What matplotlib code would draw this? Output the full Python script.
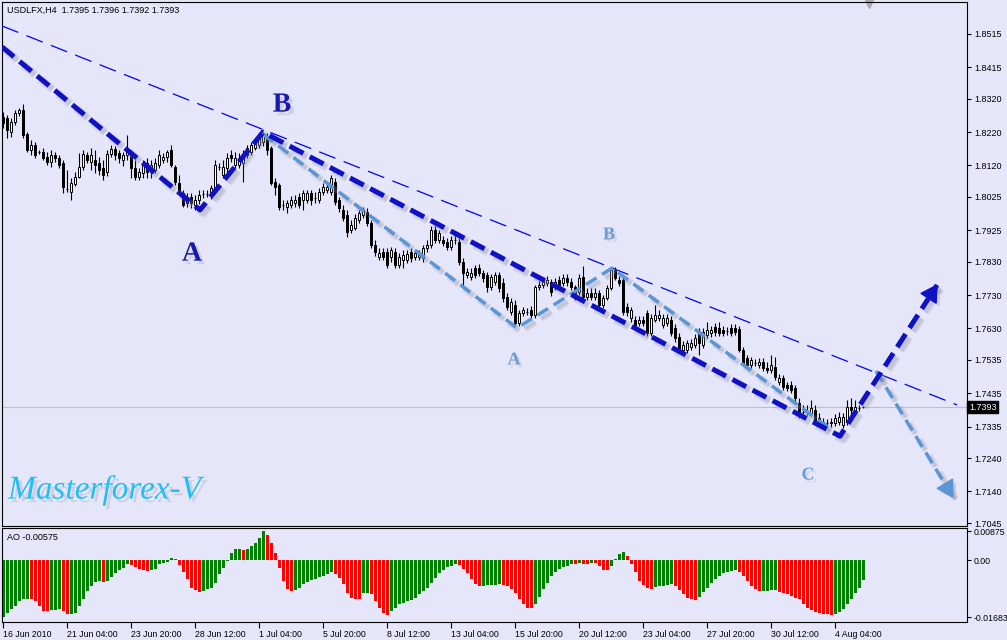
#!/usr/bin/env python
import numpy as np
import matplotlib
matplotlib.use('Agg')
import matplotlib.pyplot as plt
import matplotlib.patheffects as pe
import matplotlib.transforms as mtrans

#--USDLFX H4 candles (16 Jun 2010 .. 4 Aug 2010)
opens = [1.8265,1.8262,1.8220,1.8250,1.8277,1.8286,1.8214,1.8166,1.8181,1.8160,1.8160,1.8145,
         1.8130,1.8151,1.8142,1.8127,1.8049,1.8040,1.8064,1.8085,1.8115,1.8151,1.8130,1.8136,
         1.8127,1.8112,1.8100,1.8154,1.8169,1.8157,1.8136,1.8151,1.8151,1.8112,1.8085,1.8097,
         1.8127,1.8100,1.8106,1.8121,1.8136,1.8145,1.8166,1.8115,1.8067,1.8037,1.8007,1.8025,
         1.8001,1.8016,1.8034,1.8034,1.8031,1.8046,1.8115,1.8091,1.8112,1.8151,1.8121,1.8121,
         1.8127,1.8151,1.8160,1.8172,1.8181,1.8190,1.8205,1.8172,1.8070,1.8061,1.8001,1.7995,
         1.8001,1.8007,1.8025,1.8016,1.8016,1.8037,1.8022,1.8016,1.8040,1.8046,1.8040,1.8070,
         1.8016,1.7986,1.7971,1.7926,1.7932,1.7956,1.7971,1.7980,1.7947,1.7881,1.7844,1.7859,
         1.7859,1.7844,1.7859,1.7820,1.7835,1.7835,1.7859,1.7844,1.7844,1.7841,1.7872,1.7881,
         1.7926,1.7896,1.7896,1.7890,1.7875,1.7896,1.7890,1.7829,1.7790,1.7784,1.7811,1.7811,
         1.7796,1.7790,1.7754,1.7769,1.7790,1.7766,1.7724,1.7679,1.7700,1.7646,1.7676,1.7679,
         1.7685,1.7670,1.7754,1.7760,1.7766,1.7769,1.7754,1.7775,1.7766,1.7781,1.7769,1.7754,
         1.7739,1.7784,1.7724,1.7736,1.7724,1.7736,1.7700,1.7721,1.7751,1.7805,1.7775,1.7775,
         1.7694,1.7661,1.7655,1.7646,1.7655,1.7676,1.7616,1.7655,1.7661,1.7640,1.7646,1.7655,
         1.7631,1.7604,1.7565,1.7565,1.7574,1.7580,1.7619,1.7580,1.7610,1.7616,1.7634,1.7631,
         1.7625,1.7622,1.7631,1.7631,1.7628,1.7565,1.7541,1.7520,1.7526,1.7520,1.7529,1.7511,
         1.7505,1.7514,1.7469,1.7481,1.7460,1.7460,1.7451,1.7406,1.7379,1.7379,1.7376,1.7385,
         1.7360,1.7348,1.7345,1.7345,1.7345,1.7348,1.7339,1.7348,1.7394,1.7379,1.7391,1.7395]
highs = [1.8280,1.8271,1.8262,1.8286,1.8292,1.8304,1.8220,1.8196,1.8190,1.8166,1.8172,1.8160,
         1.8166,1.8160,1.8151,1.8136,1.8106,1.8082,1.8100,1.8157,1.8166,1.8160,1.8172,1.8166,
         1.8145,1.8136,1.8166,1.8181,1.8178,1.8166,1.8160,1.8211,1.8166,1.8136,1.8112,1.8136,
         1.8142,1.8136,1.8142,1.8166,1.8157,1.8166,1.8181,1.8121,1.8091,1.8046,1.8037,1.8037,
         1.8031,1.8046,1.8046,1.8046,1.8061,1.8136,1.8127,1.8136,1.8157,1.8166,1.8160,1.8157,
         1.8166,1.8181,1.8190,1.8202,1.8211,1.8220,1.8217,1.8178,1.8082,1.8067,1.8016,1.8016,
         1.8028,1.8031,1.8037,1.8046,1.8046,1.8046,1.8040,1.8052,1.8067,1.8067,1.8091,1.8082,
         1.8025,1.8001,1.7986,1.7956,1.7974,1.7986,1.7995,1.7992,1.7956,1.7896,1.7872,1.7872,
         1.7872,1.7875,1.7872,1.7856,1.7865,1.7865,1.7872,1.7865,1.7865,1.7881,1.7896,1.7938,
         1.7938,1.7926,1.7908,1.7902,1.7908,1.7917,1.7902,1.7841,1.7811,1.7811,1.7820,1.7823,
         1.7805,1.7799,1.7793,1.7799,1.7799,1.7781,1.7736,1.7721,1.7715,1.7685,1.7694,1.7691,
         1.7697,1.7760,1.7772,1.7784,1.7787,1.7778,1.7781,1.7787,1.7793,1.7793,1.7781,1.7760,
         1.7793,1.7817,1.7751,1.7751,1.7751,1.7745,1.7730,1.7760,1.7814,1.7814,1.7787,1.7787,
         1.7706,1.7694,1.7667,1.7667,1.7667,1.7685,1.7673,1.7700,1.7685,1.7673,1.7673,1.7667,
         1.7643,1.7616,1.7592,1.7595,1.7598,1.7613,1.7631,1.7631,1.7649,1.7637,1.7646,1.7649,
         1.7637,1.7634,1.7643,1.7643,1.7637,1.7574,1.7550,1.7544,1.7538,1.7541,1.7541,1.7529,
         1.7550,1.7544,1.7493,1.7490,1.7469,1.7472,1.7460,1.7421,1.7400,1.7400,1.7415,1.7400,
         1.7376,1.7360,1.7357,1.7360,1.7373,1.7379,1.7376,1.7415,1.7421,1.7415,1.7400,1.7396]
lows = [1.8232,1.8202,1.8205,1.8241,1.8268,1.8202,1.8160,1.8151,1.8142,1.8154,1.8136,1.8121,
        1.8115,1.8130,1.8112,1.8037,1.8040,1.8016,1.8058,1.8082,1.8106,1.8127,1.8106,1.8097,
        1.8091,1.8076,1.8088,1.8145,1.8136,1.8127,1.8118,1.8136,1.8082,1.8076,1.8076,1.8082,
        1.8082,1.8082,1.8097,1.8112,1.8127,1.8130,1.8115,1.8061,1.8037,1.7995,1.7995,1.7992,
        1.7986,1.8004,1.8022,1.8025,1.8019,1.8040,1.8106,1.8082,1.8100,1.8130,1.8112,1.8112,
        1.8070,1.8142,1.8151,1.8166,1.8172,1.8178,1.8151,1.8061,1.8031,1.7986,1.7986,1.7977,
        1.7992,1.7995,1.7992,1.7986,1.8007,1.8001,1.8007,1.8007,1.8031,1.8037,1.8031,1.8001,
        1.7980,1.7953,1.7905,1.7917,1.7926,1.7947,1.7962,1.7938,1.7872,1.7847,1.7835,1.7835,
        1.7811,1.7829,1.7811,1.7811,1.7811,1.7826,1.7829,1.7835,1.7835,1.7829,1.7859,1.7872,
        1.7887,1.7887,1.7878,1.7865,1.7865,1.7884,1.7820,1.7751,1.7781,1.7775,1.7781,1.7787,
        1.7769,1.7739,1.7745,1.7760,1.7739,1.7709,1.7685,1.7670,1.7637,1.7637,1.7667,1.7670,
        1.7661,1.7661,1.7745,1.7751,1.7757,1.7727,1.7745,1.7751,1.7757,1.7757,1.7745,1.7715,
        1.7730,1.7715,1.7715,1.7715,1.7715,1.7691,1.7691,1.7715,1.7745,1.7775,1.7757,1.7670,
        1.7667,1.7649,1.7631,1.7637,1.7637,1.7607,1.7607,1.7649,1.7652,1.7631,1.7637,1.7607,
        1.7589,1.7556,1.7556,1.7556,1.7565,1.7571,1.7550,1.7571,1.7601,1.7604,1.7607,1.7607,
        1.7607,1.7610,1.7607,1.7610,1.7559,1.7517,1.7511,1.7511,1.7517,1.7511,1.7502,1.7496,
        1.7496,1.7475,1.7460,1.7445,1.7442,1.7436,1.7409,1.7360,1.7370,1.7370,1.7367,1.7345,
        1.7333,1.7330,1.7336,1.7333,1.7336,1.7339,1.7330,1.7339,1.7367,1.7370,1.7382,1.7392]
closes = [1.8247,1.8226,1.8250,1.8277,1.8286,1.8211,1.8166,1.8181,1.8151,1.8160,1.8142,1.8130,
          1.8151,1.8142,1.8121,1.8055,1.8049,1.8067,1.8085,1.8115,1.8154,1.8136,1.8151,1.8121,
          1.8106,1.8091,1.8154,1.8169,1.8151,1.8142,1.8151,1.8172,1.8112,1.8085,1.8100,1.8121,
          1.8100,1.8121,1.8127,1.8151,1.8145,1.8160,1.8121,1.8070,1.8046,1.8001,1.8025,1.8007,
          1.8016,1.8031,1.8034,1.8034,1.8052,1.8121,1.8115,1.8115,1.8142,1.8142,1.8142,1.8142,
          1.8151,1.8172,1.8181,1.8190,1.8202,1.8211,1.8166,1.8067,1.8055,1.7995,1.8001,1.8007,
          1.8016,1.8016,1.8001,1.8037,1.8037,1.8016,1.8022,1.8040,1.8055,1.8055,1.8082,1.8010,
          1.7992,1.7962,1.7920,1.7941,1.7962,1.7977,1.7986,1.7947,1.7881,1.7859,1.7856,1.7844,
          1.7820,1.7865,1.7820,1.7844,1.7850,1.7853,1.7841,1.7856,1.7850,1.7872,1.7881,1.7926,
          1.7896,1.7917,1.7887,1.7875,1.7896,1.7896,1.7829,1.7796,1.7799,1.7796,1.7790,1.7796,
          1.7781,1.7754,1.7784,1.7790,1.7751,1.7721,1.7694,1.7709,1.7646,1.7676,1.7685,1.7679,
          1.7670,1.7754,1.7760,1.7775,1.7775,1.7739,1.7769,1.7760,1.7781,1.7769,1.7754,1.7721,
          1.7781,1.7724,1.7736,1.7724,1.7736,1.7700,1.7721,1.7751,1.7805,1.7781,1.7766,1.7679,
          1.7679,1.7685,1.7640,1.7655,1.7646,1.7616,1.7661,1.7670,1.7670,1.7661,1.7661,1.7616,
          1.7601,1.7565,1.7580,1.7586,1.7586,1.7601,1.7586,1.7619,1.7625,1.7625,1.7619,1.7616,
          1.7616,1.7622,1.7616,1.7619,1.7565,1.7526,1.7520,1.7535,1.7526,1.7529,1.7511,1.7505,
          1.7520,1.7484,1.7481,1.7454,1.7451,1.7445,1.7421,1.7376,1.7379,1.7379,1.7391,1.7354,
          1.7345,1.7339,1.7345,1.7348,1.7360,1.7363,1.7363,1.7394,1.7385,1.7394,1.7391,1.7393]

#--Awesome Oscillator
ao = [-0.01683,-0.01574,-0.01455,-0.01337,-0.01208,-0.01139,-0.01129,-0.01139,-0.01208,-0.01356,-0.01505,-0.01515,
      -0.01475,-0.01465,-0.01455,-0.01505,-0.01604,-0.01584,-0.01574,-0.01356,-0.01158,-0.00911,-0.00762,-0.00644,
      -0.00614,-0.00634,-0.00604,-0.00485,-0.00386,-0.00287,-0.00218,-0.00119,-0.00139,-0.00198,-0.00267,-0.00287,
      -0.00317,-0.00297,-0.00267,-0.00119,-0.00069,-0.00040,0.00079,0.00050,-0.00139,-0.00347,-0.00564,-0.00812,
      -0.00881,-0.00941,-0.00911,-0.00861,-0.00812,-0.00663,-0.00416,-0.00218,-0.00020,0.00228,0.00327,0.00347,
      0.00297,0.00327,0.00426,0.00525,0.00673,0.00875,0.00752,0.00505,0.00228,-0.00218,-0.00614,-0.00832,
      -0.00911,-0.00891,-0.00812,-0.00713,-0.00644,-0.00594,-0.00545,-0.00485,-0.00446,-0.00416,-0.00347,-0.00416,
      -0.00515,-0.00713,-0.00960,-0.01109,-0.01139,-0.01158,-0.00980,-0.00960,-0.01010,-0.01208,-0.01406,-0.01554,
      -0.01624,-0.01505,-0.01406,-0.01307,-0.01257,-0.01208,-0.01178,-0.01109,-0.01010,-0.00911,-0.00812,-0.00663,
      -0.00515,-0.00386,-0.00297,-0.00198,-0.00149,-0.00119,-0.00139,-0.00267,-0.00386,-0.00545,-0.00713,-0.00762,
      -0.00743,-0.00733,-0.00723,-0.00720,-0.00713,-0.00733,-0.00762,-0.00842,-0.00960,-0.01158,-0.01307,-0.01406,
      -0.01426,-0.01307,-0.01079,-0.00861,-0.00663,-0.00465,-0.00347,-0.00267,-0.00198,-0.00149,-0.00099,-0.00109,
      -0.00069,-0.00099,-0.00119,-0.00069,-0.00089,-0.00168,-0.00287,-0.00297,-0.00168,0.00030,0.00178,0.00248,
      0.00129,-0.00119,-0.00347,-0.00614,-0.00733,-0.00812,-0.00832,-0.00792,-0.00772,-0.00752,-0.00733,-0.00713,
      -0.00762,-0.00891,-0.01010,-0.01109,-0.01158,-0.01178,-0.01079,-0.00941,-0.00812,-0.00663,-0.00545,-0.00446,
      -0.00366,-0.00337,-0.00317,-0.00297,-0.00347,-0.00465,-0.00614,-0.00762,-0.00861,-0.00921,-0.00911,-0.00901,
      -0.00891,-0.00881,-0.00941,-0.00960,-0.01010,-0.01059,-0.01109,-0.01158,-0.01307,-0.01406,-0.01475,-0.01535,
      -0.01574,-0.01584,-0.01604,-0.01624,-0.01604,-0.01535,-0.01436,-0.01307,-0.01158,-0.00980,-0.00812,-0.00575]

date_idx = [0,16,32,48,64,80,96,112,128,144,160,176,192,208]
date_labels = ['16 Jun 2010','21 Jun 04:00','23 Jun 20:00','28 Jun 12:00','1 Jul 04:00',
               '5 Jul 20:00','8 Jul 12:00','13 Jul 04:00','15 Jul 20:00','20 Jul 12:00',
               '23 Jul 04:00','27 Jul 20:00','30 Jul 12:00','4 Aug 04:00']
price_ticks = ['1.8515','1.8415','1.8320','1.8220','1.8120','1.8025','1.7925','1.7830',
               '1.7730','1.7630','1.7535','1.7435','1.7335','1.7240','1.7140','1.7045']
ao_ticks = ['0.00875','0.00','-0.01683']

#--wave markup (bar index, price)
trend_x = [-0.25, 238.5]
trend_y = [1.8539, 1.7400]
dark_x = [-0.25, 49.25, 65.0, 209.25, 233.5]
dark_y = [1.8476, 1.7986, 1.8220, 1.7306, 1.7760]
light_x = [65.0, 128.5, 152.25, 207.25]
light_y = [1.8214, 1.7631, 1.7811, 1.7324]
light_arrow_x = [218.25, 237.5]
light_arrow_y = [1.7502, 1.7123]
dark_labels = [('B', 69.75, 1.8301), ('A', 47.25, 1.7853)]
light_labels = [('B', 151.5, 1.7911), ('A', 127.75, 1.7535), ('C', 201.25, 1.7189)]

bg = '#e6e6fa'
dark = '#1010c4'
light = '#5a96d6'
plt.rcParams['font.family'] = ['Liberation Sans', 'DejaVu Sans']

W, H = 1007, 640
fig = plt.figure(figsize=(W/100., H/100.), dpi=100, facecolor=bg)
ax = fig.add_axes([2./W, 1-526./H, 965./W, 524./H], facecolor=bg)
ax2 = fig.add_axes([2./W, 1-622./H, 965./W, 94./H], facecolor=bg)

o = np.array(opens); h = np.array(highs); l = np.array(lows); c = np.array(closes)
idx = np.arange(len(c))

#--candles
ax.axhline(c[-1], color='#c0c0c0', lw=0.8, zorder=0.5)
ax.vlines(idx, l, h, color='k', lw=0.8, zorder=1)
body_col = np.where(c > o, 'white', 'black')
ax.bar(idx, np.abs(c-o), bottom=np.minimum(o, c), width=0.7, color=body_col,
       edgecolor='black', linewidth=0.7, zorder=2)

ax.set_xlim(-0.25, 241)
ax.set_ylim(1.7036, 1.8611)

#--markup lines (soft grey drop shadow)
def shadow(lw):
    return [pe.SimpleLineShadow(offset=(2.5, -2.5), shadow_color='#8c8c9c', alpha=0.18, linewidth=lw+2.5),
            pe.SimpleLineShadow(offset=(2.5, -2.5), shadow_color='#8c8c9c', alpha=0.22, linewidth=lw),
            pe.Normal()]
ax.plot(trend_x, trend_y, color='#0000ff', lw=0.9, dashes=(14, 7), zorder=3)
ax.plot(light_x, light_y, color=light, lw=2.5, dashes=(3.6, 1.9), zorder=4, path_effects=shadow(2.5))
ax.plot(light_arrow_x, light_arrow_y, color=light, lw=2.5, dashes=(3.6, 1.9), zorder=4, path_effects=shadow(2.5))
ax.plot(dark_x, dark_y, color=dark, lw=3.6, dashes=(3.1, 1.45), zorder=5, path_effects=shadow(3.6))

def arrow_head(xs, ys, color, ms):
    d0 = ax.transData.transform((xs[-2], ys[-2]))
    d1 = ax.transData.transform((xs[-1], ys[-1]))
    u = (d1 - d0)/np.hypot(*(d1 - d0))
    ang = np.degrees(np.arctan2(u[1], u[0]))
    cen = ax.transData.inverted().transform(d1 - u*ms/2.*fig.dpi/72.)
    ax.plot(cen[0], cen[1], marker=(3, 0, ang-90), ms=ms, color=color, mec=color, zorder=6,
            path_effects=[pe.withSimplePatchShadow(offset=(2.5, -2.5), shadow_rgbFace='#8c8c9c', alpha=0.3)])

arrow_head(dark_x, dark_y, dark, 15)
arrow_head(light_arrow_x, light_arrow_y, light, 15)

tshadow = [pe.withSimplePatchShadow(offset=(2.5, -2.5), shadow_rgbFace='#9a9aaa', alpha=0.3)]
for s, x, y in dark_labels:
    ax.text(x, y, s, color='#1a1aa8', fontsize=20, fontweight='bold', family='Liberation Serif',
            ha='center', va='center', zorder=7, path_effects=tshadow)
for s, x, y in light_labels:
    ax.text(x, y, s, color='#6a9bd2', fontsize=13, fontweight='bold', family='Liberation Serif',
            ha='center', va='center', zorder=7,
            path_effects=[pe.withSimplePatchShadow(offset=(2, -2), shadow_rgbFace='#a0a0b0', alpha=0.25)])
ax.text(1.25, 1.7144, 'Masterforex-V', color='#22bff5', fontsize=24, style='italic',
        family='Liberation Serif', ha='left', va='center', zorder=7, path_effects=tshadow)

#--axis styling
ax.yaxis.tick_right()
ax.set_yticks([float(t) for t in price_ticks])
ax.set_yticklabels(price_ticks)
ax.tick_params(axis='y', direction='out', length=3, width=0.8, labelsize=6.5, pad=2)
ax.set_xticks([])
ax.text(1.002, c[-1], '%.4f' % c[-1], transform=mtrans.blended_transform_factory(ax.transAxes, ax.transData),
        color='white', fontsize=6.5, ha='left', va='center',
        bbox=dict(fc='black', ec='black', pad=1.2), clip_on=False)
ax.plot([0.898], [0.997], marker='v', ms=6, color='#a8a8b0', transform=ax.transAxes, clip_on=False)

#--AO panel
ao = np.array(ao)
ao_col = ['#008000'] + ['#008000' if ao[i] > ao[i-1] else '#ff0000' for i in range(1, len(ao))]
ax2.bar(idx, ao, width=0.75, color=ao_col, linewidth=0)
ax2.set_xlim(-0.25, 241)
ax2.set_ylim(-0.01827, 0.00965)
ax2.yaxis.tick_right()
ax2.set_yticks([float(t) for t in ao_ticks])
ax2.set_yticklabels(ao_ticks)
ax2.tick_params(axis='y', direction='out', length=3, width=0.8, labelsize=6.3, pad=1.5)
ax2.set_xticks(date_idx)
ax2.set_xticklabels(date_labels, ha='left')
ax2.tick_params(axis='x', direction='out', length=4, width=0.8, labelsize=6.3, pad=1.5)

for a in (ax, ax2):
    for sp in a.spines.values():
        sp.set_color('black')
        sp.set_linewidth(0.8)

fig.text(7./W, 1-10./H, 'USDLFX,H4  1.7395 1.7396 1.7392 1.7393', fontsize=6.5, va='center', ha='left')
fig.text(7./W, 1-537./H, 'AO -0.00575', fontsize=6.5, va='center', ha='left')

fig.savefig('out.png', dpi=100, facecolor=bg)
